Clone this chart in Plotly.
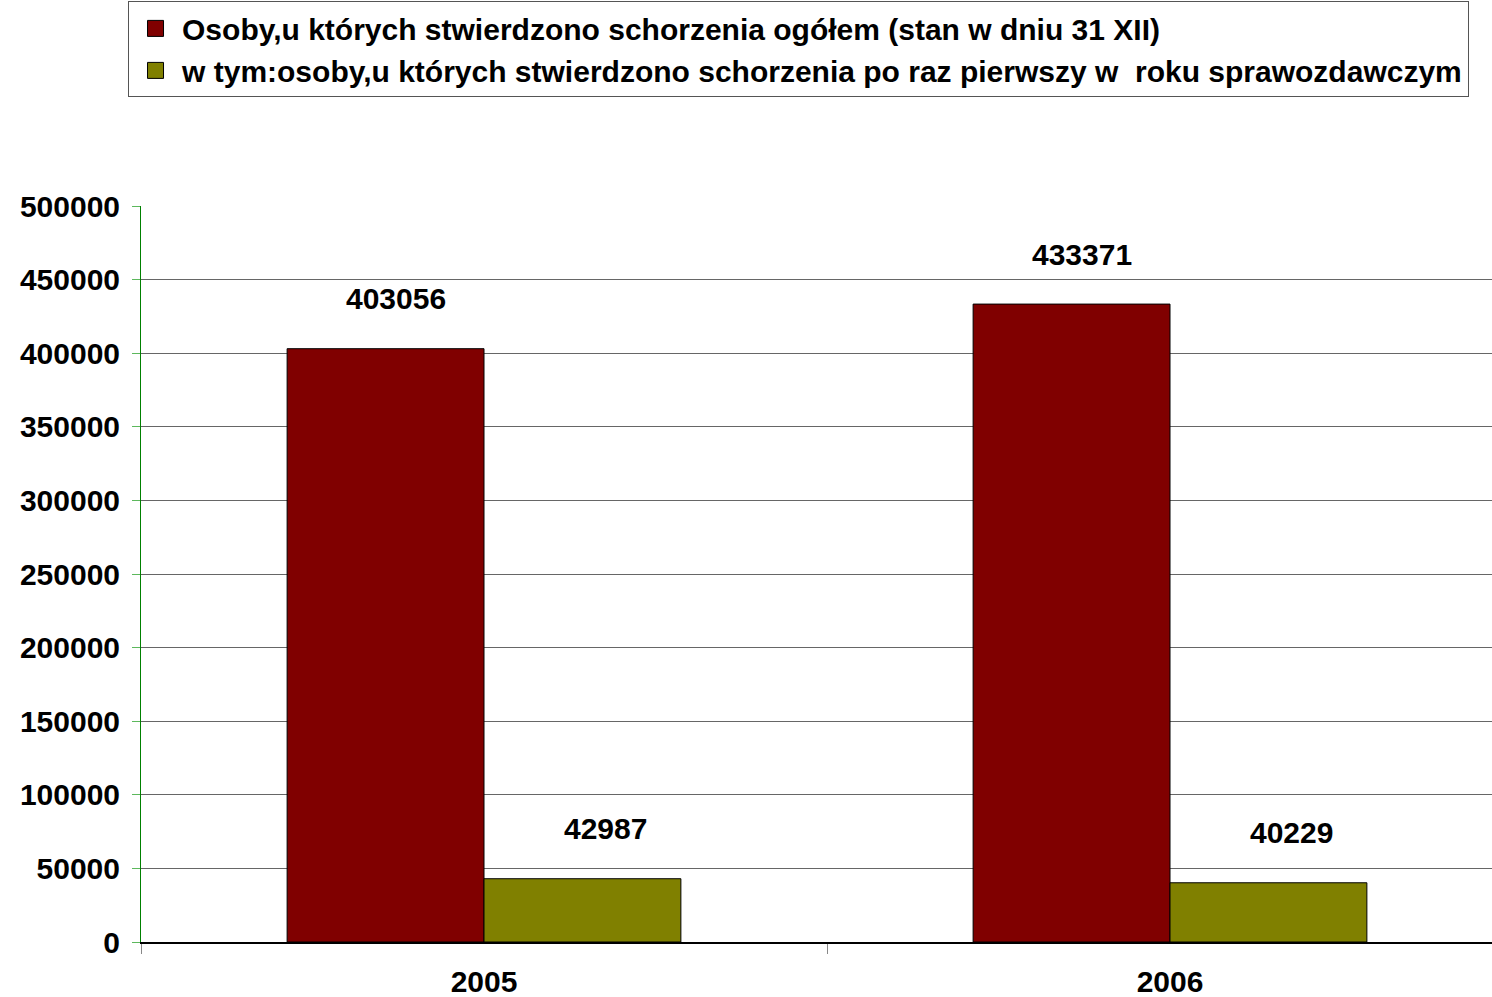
import plotly.graph_objects as go

years = ["2005", "2006"]
ogolem = [403056, 433371]
pierwszy = [42987, 40229]
series_names = [
    "Osoby,u których stwierdzono schorzenia ogółem (stan w dniu 31 XII)",
    "w tym:osoby,u których stwierdzono schorzenia po raz pierwszy w  roku sprawozdawczym",
]
colors = ["#800000", "#808000"]
y_ticks = list(range(0, 500001, 50000))

font_family = "Liberation Sans, Arial, sans-serif"
bar_w = 0.287

fig = go.Figure()
for vals, name, col in zip([ogolem, pierwszy], series_names, colors):
    fig.add_trace(go.Bar(x=years, y=vals, name=name, showlegend=False,
                         marker=dict(color=col, line=dict(color="black", width=1))))
# legend entries with bigger square swatches
for name, col in zip(series_names, colors):
    fig.add_trace(go.Scatter(x=[None], y=[None], mode="markers", name=name,
                             marker=dict(symbol="square", size=16, color=col,
                                         line=dict(color="black", width=1))))

# value labels sit well above the bars, as in the original
annotations = []
for i, (a, b) in enumerate(zip(ogolem, pierwszy)):
    annotations.append(dict(x=i - bar_w / 2, y=a, xref="x", yref="y", text=str(a),
                            showarrow=False, yshift=50, xshift=10))
    annotations.append(dict(x=i + bar_w / 2, y=b, xref="x", yref="y", text=str(b),
                            showarrow=False, yshift=50, xshift=23))

fig.update_layout(
    width=1492, height=997,
    margin=dict(l=141, r=0, t=206, b=55),
    paper_bgcolor="white", plot_bgcolor="white",
    font=dict(family=font_family, size=30, color="black", weight="bold"),
    barmode="group", bargap=0.426, bargroupgap=0,
    annotations=annotations,
    legend=dict(
        x=-0.0096, y=1.278, xanchor="left", yanchor="top",
        orientation="v", bordercolor="#555555", borderwidth=1,
        font=dict(size=30, family=font_family, weight="bold"),
        itemwidth=43, itemsizing="trace",
    ),
    showlegend=True,
)
fig.update_xaxes(
    type="category", range=[-0.5, -0.5 + 1351 / 686], automargin=False,
    showline=True, linecolor="black", linewidth=2,
    ticks="outside", tickson="boundaries", ticklen=10, tickcolor="#888888",
    ticklabelstandoff=12, showgrid=False,
)
fig.update_yaxes(
    range=[0, 500000], tickvals=y_ticks, tickformat="d", automargin=False,
    showline=True, linecolor="green", linewidth=1,
    ticks="outside", ticklen=8, tickcolor="#5cb85c",
    showgrid=True, gridcolor="#666666", gridwidth=1,
    zeroline=False, ticklabelstandoff=6,
)

fig.write_html("out.html", config={"displayModeBar": False},
               post_script="document.body.style.margin='0';")
